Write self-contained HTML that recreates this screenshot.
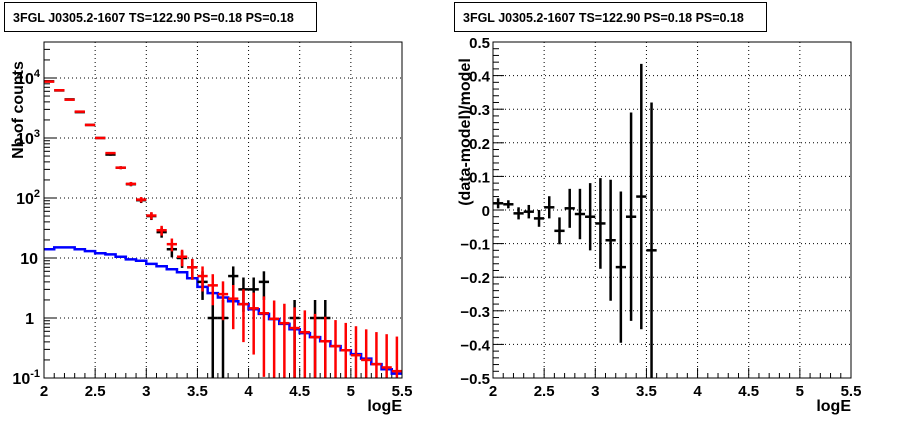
<!DOCTYPE html>
<html><head><meta charset="utf-8"><style>
body{margin:0;background:#fff;}
svg{display:block;font-family:"Liberation Sans",Arial,sans-serif;font-weight:bold;}
</style></head><body>
<svg id="c" width="898" height="421" viewBox="0 0 898 421" xmlns="http://www.w3.org/2000/svg">
<rect x="0" y="0" width="898" height="421" fill="#fff"/>
<g>
<rect x="4.5" y="2.5" width="312" height="29" fill="#fff" stroke="#000"/>
<text x="13" y="22" font-size="12.5">3FGL J0305.2-1607 TS=122.90 PS=0.18 PS=0.18</text></g>
<g>
<rect x="454.5" y="2.5" width="312" height="29" fill="#fff" stroke="#000"/>
<text x="463" y="22" font-size="12.5">3FGL J0305.2-1607 TS=122.90 PS=0.18 PS=0.18</text></g>
<g id="L"></g><g id="R"></g>
<text transform="translate(23,110) rotate(-90)" text-anchor="middle" font-size="16">Nb of counts</text>
<text transform="translate(470,132) rotate(-90)" text-anchor="middle" font-size="16">(data-model)/model</text>
<text x="402" y="411" text-anchor="end" font-size="16">logE</text>
<text x="851" y="411" text-anchor="end" font-size="16">logE</text>
</svg>
<script>
const centers=[2.05,2.15,2.25,2.35,2.45,2.55,2.65,2.75,2.85,2.95,3.05,3.15,3.25,3.35,3.45,3.55,3.65,3.75,3.85,3.95,4.05,4.15,4.25,4.35,4.45,4.55,4.65,4.75,4.85,4.95,5.05,5.15,5.25,5.35,5.45];
const dataCounts=[8800,6200,4400,2700,1650,1000,530,320,170,92,50,27,14,10,7,4,1,1,5,3,3,4,0,0,1,0,1,1,0,0,0,0,0,0,0];
const modelCounts=[8700,6250,4350,2750,1650,1000,560,320,172,94,51,29,17,10.5,7,5,3.5,2.5,2.1,1.7,1.45,1.2,0.97,0.82,0.68,0.58,0.48,0.41,0.34,0.29,0.24,0.2,0.17,0.15,0.13];
const blueCounts=[14,15,15,14,13,12,11.5,10.5,9.5,9,8,7.3,6.5,5.8,4.6,3.3,2.6,2.2,1.9,1.7,1.4,1.17,0.96,0.8,0.65,0.56,0.48,0.41,0.34,0.29,0.25,0.21,0.17,0.14,0.118];
const resCenters=[2.05,2.15,2.25,2.35,2.45,2.55,2.65,2.75,2.85,2.95,3.05,3.15,3.25,3.35,3.45,3.55];
const resValues=[0.02,0.017,-0.01,-0.005,-0.025,0.008,-0.062,0.005,-0.012,-0.02,-0.04,-0.09,-0.17,-0.02,0.04,-0.12];
const resErrors=[0.015,0.012,0.018,0.02,0.025,0.033,0.04,0.058,0.075,0.1,0.135,0.18,0.225,0.31,0.395,0.44];
const xTicks=["2","2.5","3","3.5","4","4.5","5","5.5"];
const logTicks=[-1,0,1,2,3,4];
const resTicks=["-0.5","-0.4","-0.3","-0.2","-0.1","0","0.1","0.2","0.3","0.4","0.5"];

const NS="http://www.w3.org/2000/svg";
const T=42,B=378;
function mk(p,tag,a){const e=document.createElementNS(NS,tag);for(const k in a)e.setAttribute(k,a[k]);p.appendChild(e);return e;}
function xs(x0){return v=>x0+(v-2)/3.5*358;}
const yL=v=>B-(Math.log10(v)+1)/5.6*(B-T);
const yR=v=>B-(v+0.5)*(B-T);

function frame(g,x0,xf){
  // grid
  for(let i=1;i<xTicks.length-1;i++){const x=xf(parseFloat(xTicks[i]));
    const l=mk(g,'line',{x1:x,x2:x,y1:T,y2:B,stroke:'#000','stroke-dasharray':'1,3','stroke-width':1});
    }
  for(let v=2;v<=5.5001;v+=0.1){const x=xf(v);const maj=Math.abs(v*2-Math.round(v*2))<1e-6;
    mk(g,'line',{x1:x,x2:x,y1:B,y2:B-(maj?10:5),stroke:'#000'});}
  xTicks.forEach(t=>{const tx=mk(g,'text',{x:xf(parseFloat(t)),y:B+18,'text-anchor':'middle','font-size':15});tx.textContent=t;
    });
}
// left
const gL=document.getElementById('L');

const xL=xs(44);
frame(gL,44,xL);
logTicks.forEach(d=>{const y=B-(d+1)/5.6*(B-T);
  if(d>-1&&true){const l=mk(gL,'line',{x1:44,x2:402,y1:y,y2:y,stroke:'#000','stroke-dasharray':'1,3'});
    }
  mk(gL,'line',{x1:44,x2:56,y1:y,y2:y,stroke:'#000'});
  for(let m=2;m<=9;m++){const yy=B-(d+1+Math.log10(m))/5.6*(B-T);if(yy>=T)mk(gL,'line',{x1:44,x2:50,y1:yy,y2:yy,stroke:'#000'});}
  let lab;
  if(d===0)lab=mk(gL,'text',{x:34,y:y+6,'text-anchor':'end','font-size':16});
  else if(d===1)lab=mk(gL,'text',{x:38,y:y+6,'text-anchor':'end','font-size':16});
  else lab=mk(gL,'text',{x:40,y:y+6,'text-anchor':'end','font-size':16});
  if(d===0)lab.textContent='1';else if(d===1)lab.textContent='10';
  else{lab.textContent='10';const s=mk(lab,'tspan',{dy:-7,'font-size':11});s.textContent=String(d);}
  
});
function clipY(v){return v<=0.1?B:Math.max(T,yL(v));}
// blue step histogram
let d='';centers.forEach((c,i)=>{const y=clipY(blueCounts[i]);const xa=xL(c-0.05),xb=xL(c+0.05);d+=(i?'L':'M')+xa+','+y+'L'+xb+','+y;});
const bp=mk(gL,'path',{d:d,fill:'none',stroke:'#00f','stroke-width':2.5});

function errs(arr,col,name,w){arr.forEach((n,i)=>{if(n<=0)return;const c=centers[i];const e=Math.sqrt(n);
  const g=mk(gL,'g',{});
  mk(g,'line',{x1:xL(c),x2:xL(c),y1:clipY(n+e),y2:clipY(n-e),stroke:col,'stroke-width':w});
  const y=yL(n);if(y<=B)mk(g,'line',{x1:xL(c-0.05),x2:xL(c+0.05),y1:y,y2:y,stroke:col,'stroke-width':w});});}
errs(dataCounts,'#000','data-point',2.5);
errs(modelCounts,'#f00','model-point',2.5);
mk(gL,'rect',{x:44,y:T,width:358,height:B-T,fill:'none',stroke:'#000'});
// right
const gR=document.getElementById('R');

const xR=xs(493);
frame(gR,493,xR);
resTicks.forEach((t,i)=>{const v=parseFloat(t);const y=yR(v);
  if(i>0&&i<resTicks.length-1){const l=mk(gR,'line',{x1:493,x2:851,y1:y,y2:y,stroke:'#000','stroke-dasharray':'1,3'});
    }
  mk(gR,'line',{x1:493,x2:504,y1:y,y2:y,stroke:'#000'});
  if(i<resTicks.length-1)for(let k=1;k<5;k++){const yy=yR(v+k*0.02);mk(gR,'line',{x1:493,x2:499,y1:yy,y2:yy,stroke:'#000'});}
  const lab=mk(gR,'text',{x:490,y:y+6,'text-anchor':'end','font-size':15});lab.textContent=t.replace('-','\u2212');
  });
resCenters.forEach((c,i)=>{const v=resValues[i],e=resErrors[i];
  const g=mk(gR,'g',{});
  mk(g,'line',{x1:xR(c),x2:xR(c),y1:yR(Math.min(0.5,v+e)),y2:yR(Math.max(-0.5,v-e)),stroke:'#000','stroke-width':2.5});
  mk(g,'line',{x1:xR(c-0.05),x2:xR(c+0.05),y1:yR(v),y2:yR(v),stroke:'#000','stroke-width':2.5});});
mk(gR,'rect',{x:493,y:T,width:358,height:B-T,fill:'none',stroke:'#000'});
</script>
</body></html>
